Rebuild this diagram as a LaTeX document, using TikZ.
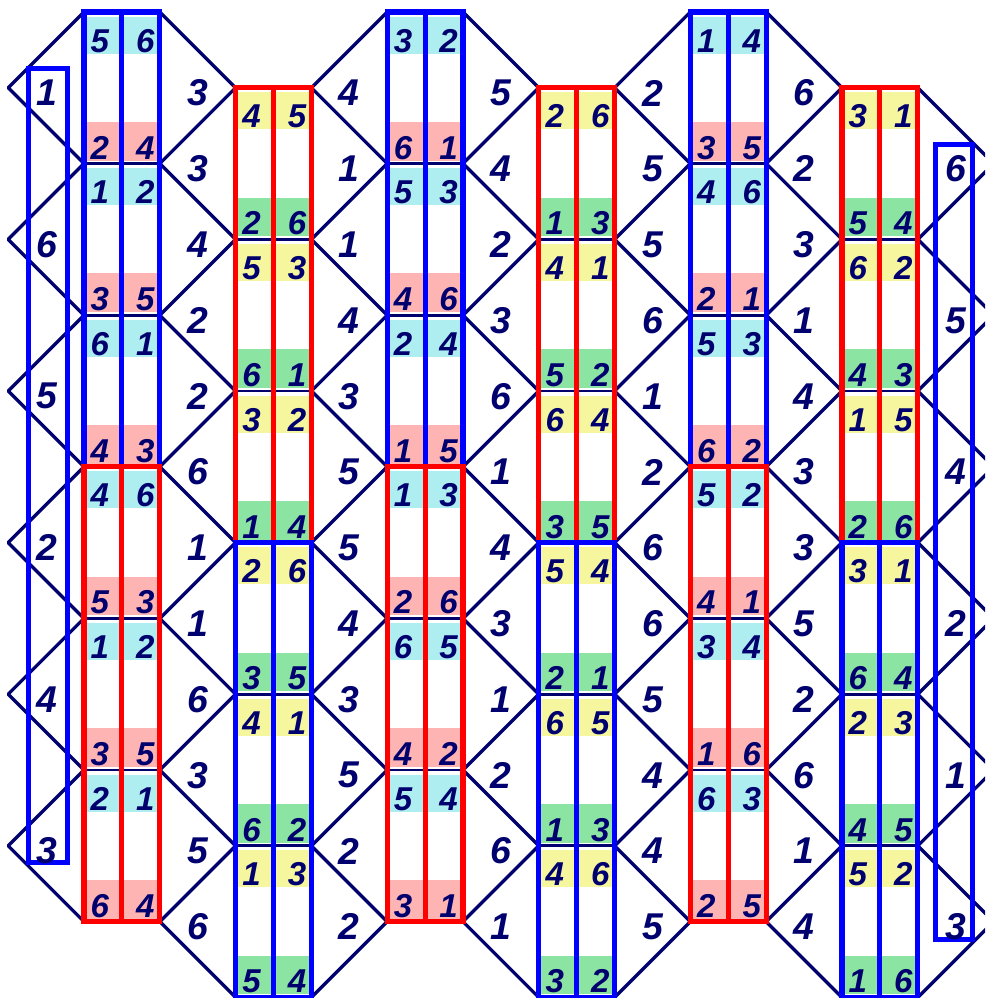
\documentclass[tikz,border=0pt]{standalone}
\usepackage{fontspec}
\setmainfont{Liberation Sans}
\usetikzlibrary{calc}

\definecolor{navy}{RGB}{0,0,110}
\definecolor{stripcyan}{RGB}{174,238,240}
\definecolor{strippink}{RGB}{255,180,180}
\definecolor{stripyellow}{RGB}{246,246,158}
\definecolor{stripgreen}{RGB}{140,228,162}

\tikzset{
	zig/.style={draw=navy, line width=1.25pt, line cap=round, line join=round},
	sep/.style={draw=navy, line width=1pt},
	band/.style={line width=1.9pt},
	num/.style={text=navy, inner sep=0pt, anchor=base, font=\fontsize{12.4}{13}\selectfont\bfseries\itshape},
	gapnum/.style={text=navy, inner sep=0pt, font=\fontsize{14}{15}\selectfont\bfseries\itshape},
}

\begin{document}
\begin{tikzpicture}
	\useasboundingbox (-0.108,0.158) rectangle (12.887,-13.008);
	\clip (-0.108,0.158) rectangle (12.887,-13.008);

	\foreach \k/\tz/\up/\dn in {0/0/stripcyan/strippink, 1/1/stripyellow/stripgreen, 2/0/stripcyan/strippink, 3/1/stripyellow/stripgreen, 4/0/stripcyan/strippink, 5/1/stripyellow/stripgreen}
		\foreach \s in {0,...,5} {
			\pgfmathsetmacro\xl{2*\k+1}
			\pgfmathsetmacro\ts{\tz+2*\s}
			\fill[\up] (\xl,-\ts-0.06) rectangle ++(1,-0.49);
			\fill[\dn] (\xl,-\ts-1.45) rectangle ++(1,-0.51);
			\draw[sep] (\xl,-\ts) -- ++(1,0);
		}

	\draw[zig] (1,0) \foreach \t in {1,...,12} { -- ({1-mod(\t,2)},-\t) };
	\foreach \xe/\xo in {2/3, 5/4, 6/7, 9/8, 10/11}
		\draw[zig] (\xe,0) \foreach \t in {1,...,13} { -- ({\xe+(\xo-\xe)*mod(\t,2)},-\t) };
	\draw[zig] (12,-1) \foreach \t in {2,...,13} { -- ({12+mod(\t+1,2)},-\t) };

	\foreach \k/\tz/\ca/\cb in {0/0/blue/red, 1/1/red/blue, 2/0/blue/red, 3/1/red/blue, 4/0/blue/red, 5/1/red/blue} {
		\pgfmathsetmacro\xl{2*\k+1}
		\draw[band, \ca] (\xl,-\tz) rectangle ++(1,-6);
		\draw[band, \ca] (\xl+0.5,-\tz) -- ++(0,-6);
		\draw[band, \cb] (\xl,-\tz-6) rectangle ++(1,-6);
		\draw[band, \cb] (\xl+0.5,-\tz-6) -- ++(0,-6);
	}
	\draw[band, blue] (0.27,-0.74) rectangle (0.78,-11.22);
	\draw[band, blue] (12.23,-1.75) rectangle (12.72,-12.23);

	\foreach \k/\digits in {
		0/{5,6,2,4,1,2,3,5,6,1,4,3,4,6,5,3,1,2,3,5,2,1,6,4},
		1/{4,5,2,6,5,3,6,1,3,2,1,4,2,6,3,5,4,1,6,2,1,3,5,4},
		2/{3,2,6,1,5,3,4,6,2,4,1,5,1,3,2,6,6,5,4,2,5,4,3,1},
		3/{2,6,1,3,4,1,5,2,6,4,3,5,5,4,2,1,6,5,1,3,4,6,3,2},
		4/{1,4,3,5,4,6,2,1,5,3,6,2,5,2,4,1,3,4,1,6,6,3,2,5},
		5/{3,1,5,4,6,2,4,3,1,5,2,6,3,1,6,4,2,3,4,5,5,2,1,6}}
		\foreach \d [count=\i from 0] in \digits {
			\pgfmathsetmacro\cx{2*\k+1.21+0.6*mod(\i,2)}
			\pgfmathsetmacro\cy{-mod(\k,2)-2*floor(\i/4)-0.53-1.41*(mod(\i,4)>1)}
			\node[num] (c\k-\i) at (\cx,\cy) {\d};
		}

	\foreach \g/\digits in {
		0/{3,3,4,2,2,6,1,1,6,3,5,6},
		1/{4,1,1,4,3,5,5,4,3,5,2,2},
		2/{5,4,2,3,6,1,4,3,1,2,6,1},
		3/{2,5,5,6,1,2,6,6,5,4,4,5},
		4/{6,2,3,1,4,3,3,5,2,6,1,4}}
		\foreach \d [count=\t] in \digits
			\node[gapnum] (g\g-\t) at (2*\g+2.5,-\t-0.07) {\d};

	\foreach \d [count=\i] in {1,6,5,2,4,3}
		\node[gapnum] (l\i) at (0.51,{-(2*\i-1)-0.07}) {\d};
	\foreach \d [count=\i] in {6,5,4,2,1,3}
		\node[gapnum] (r\i) at (12.5,{-2*\i-0.07}) {\d};
\end{tikzpicture}
\end{document}
